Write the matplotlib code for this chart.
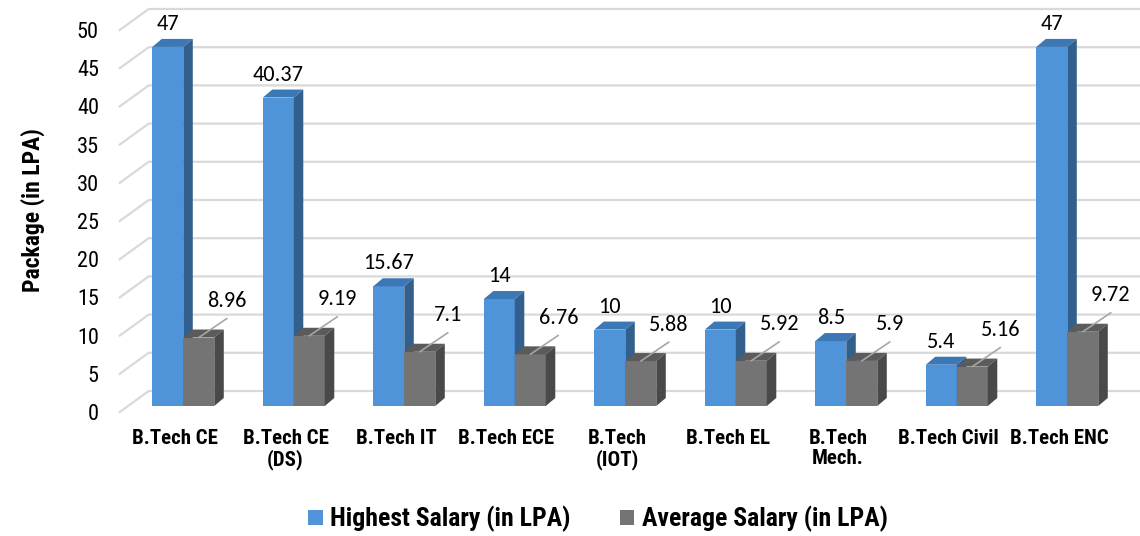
import matplotlib
matplotlib.use('Agg')
import matplotlib.pyplot as plt
from matplotlib.patches import Polygon, Patch

# ------------------------------------ 数据 ------------------------------------ #
categories = ['B.Tech CE', 'B.Tech CE\n(DS)', 'B.Tech IT', 'B.Tech ECE', 'B.Tech\n(IOT)',
              'B.Tech EL', 'B.Tech\nMech.', 'B.Tech Civil', 'B.Tech ENC']
highest = [47, 40.37, 15.67, 14, 10, 10, 8.5, 5.4, 47]
average = [8.96, 9.19, 7.1, 6.76, 5.88, 5.92, 5.9, 5.16, 9.72]
highest_labels = ['47', '40.37', '15.67', '14', '10', '10', '8.5', '5.4', '47']
average_labels = ['8.96', '9.19', '7.1', '6.76', '5.88', '5.92', '5.9', '5.16', '9.72']
series_names = ['Highest Salary (in LPA)', 'Average Salary (in LPA)']
yticks = list(range(0, 55, 5))

# 颜色：正面 / 顶面 / 侧面
blue = ('#4f94d9', '#3d78b6', '#335f8c')
gray = ('#747474', '#5b5b5b', '#494949')
grid_color = '#d9d9d9'

narrow = ['Roboto Condensed', 'Liberation Sans', 'DejaVu Sans']
label_font = ['Carlito', 'Lato', 'DejaVu Sans']

# 伪3D的深度偏移（数据单位）
FD_X, FD_Y = 0.262, 2.75     # 地板/背墙深度
BX0, BY0 = 0.075, 0.785      # 柱子正面相对前沿的偏移
BDX, BDY = 0.086, 1.05       # 柱子自身深度
W = 0.2805                   # 单根柱子宽度


def draw_bar(ax, x0, val, colors):
    front, top, side = colors
    y0 = BY0
    y1 = BY0 + val
    ax.add_patch(Polygon([(x0, y0), (x0 + W, y0), (x0 + W, y1), (x0, y1)],
                         closed=True, facecolor=front, edgecolor='none', clip_on=False, zorder=3))
    ax.add_patch(Polygon([(x0, y1), (x0 + W, y1), (x0 + W + BDX, y1 + BDY), (x0 + BDX, y1 + BDY)],
                         closed=True, facecolor=top, edgecolor='none', clip_on=False, zorder=3))
    ax.add_patch(Polygon([(x0 + W, y0), (x0 + W + BDX, y0 + BDY), (x0 + W + BDX, y1 + BDY), (x0 + W, y1)],
                         closed=True, facecolor=side, edgecolor='none', clip_on=False, zorder=3))


fig = plt.figure(figsize=(11.4, 5.36), dpi=100)
ax = fig.add_axes([119.75 / 1140, 124 / 536, 994.5 / 1140, 382 / 536])
ax.set_xlim(-0.5, 8.5)
ax.set_ylim(0, 50)
for s in ax.spines.values():
    s.set_visible(False)
ax.patch.set_visible(False)

# 网格线：左侧斜线 + 背墙水平线
for v in yticks:
    ax.plot([-0.5, -0.5 + FD_X, 8.5 + FD_X], [v, v + FD_Y, v + FD_Y],
            color=grid_color, lw=1.6, clip_on=False, zorder=0)

for i in range(len(categories)):
    c = i + BX0
    draw_bar(ax, c - W, highest[i], blue)
    draw_bar(ax, c, average[i], gray)

    # 蓝色柱标签
    ax.annotate(highest_labels[i], xy=(c - W / 2, BY0 + highest[i]), xytext=(0, 12.2),
                textcoords='offset points', ha='center', va='baseline',
                fontsize=16, family=label_font, color='#000000', zorder=5, annotation_clip=False)
    # 灰色柱标签和引线
    ax.annotate('', xy=(c + W / 2, BY0 + average[i]), xytext=(20.2, 13.7),
                textcoords='offset points', annotation_clip=False,
                arrowprops=dict(arrowstyle='-', color='#a6a6a6', lw=1.2, shrinkA=0, shrinkB=0),
                zorder=5)
    ax.annotate(average_labels[i], xy=(c + W / 2, BY0 + average[i]), xytext=(20.2, 22),
                textcoords='offset points', ha='center', va='baseline',
                fontsize=16, family=label_font, color='#000000', zorder=5, annotation_clip=False)

ax.set_yticks(yticks)
ax.set_yticklabels([str(t) for t in yticks], family=narrow, fontsize=16)
ax.set_xticks(range(len(categories)))
ax.set_xticklabels(categories, family=narrow, fontsize=15, fontweight='bold', linespacing=1.1)
ax.tick_params(axis='y', length=0, pad=15)
ax.tick_params(axis='x', length=0, pad=12)

fig.text(33 / 1140, 1 - 210 / 536, 'Package (in LPA)', rotation=90, ha='center', va='center',
         family=narrow, fontsize=17, fontweight='bold')

handles = [Patch(facecolor=blue[0], edgecolor='none'), Patch(facecolor=gray[0], edgecolor='none')]
fig.legend(handles, series_names, loc='center', bbox_to_anchor=(598 / 1140, 1 - 519 / 536),
           ncol=2, frameon=False, handlelength=0.55, handleheight=0.55, handletextpad=0.3,
           columnspacing=1.9, prop={'family': narrow, 'size': 18.5, 'weight': 'bold'})

fig.savefig('out.png', dpi=100)
